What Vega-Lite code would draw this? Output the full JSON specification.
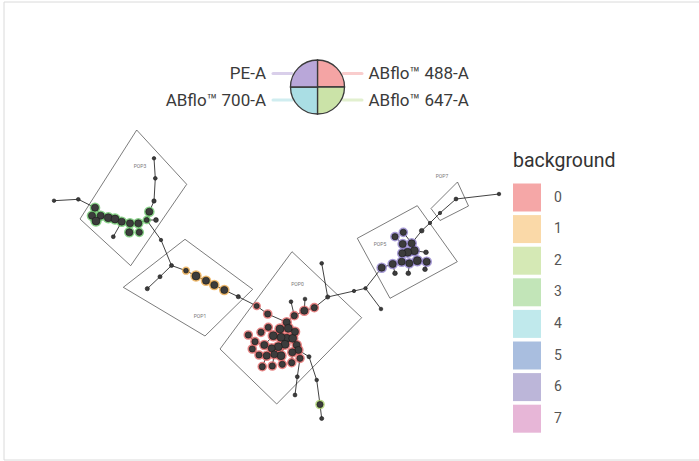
{
"$schema": "https://vega.github.io/schema/vega-lite/v6.json",
"width": 699, "height": 461, "padding": 0,
"autosize": {"type": "fit", "contains": "padding"},
"background": "white",
"config": {"view": {"stroke": null}, "font": "Roboto"},
"datasets": {
"nodes": [
{"id":1,"x":54,"y":200.7,"bg":null,"cells":20},
{"id":2,"x":78.3,"y":199.3,"bg":null,"cells":30},
{"id":3,"x":95,"y":207.7,"bg":"3","cells":320},
{"id":4,"x":92,"y":215.7,"bg":"3","cells":320},
{"id":5,"x":100.7,"y":215.7,"bg":"3","cells":320},
{"id":6,"x":96,"y":221,"bg":"3","cells":420},
{"id":7,"x":108.3,"y":217.7,"bg":"3","cells":420},
{"id":8,"x":115,"y":219,"bg":"3","cells":420},
{"id":9,"x":121.7,"y":221.7,"bg":"3","cells":320},
{"id":10,"x":130,"y":223.3,"bg":"3","cells":320},
{"id":11,"x":138.3,"y":223.3,"bg":"3","cells":320},
{"id":12,"x":129.3,"y":232.3,"bg":"3","cells":320},
{"id":13,"x":139.3,"y":232.3,"bg":"3","cells":220},
{"id":14,"x":113.3,"y":236.7,"bg":null,"cells":40},
{"id":15,"x":146.7,"y":220,"bg":"3","cells":120},
{"id":16,"x":156,"y":220,"bg":null,"cells":100},
{"id":17,"x":149.3,"y":211.7,"bg":"3","cells":320},
{"id":18,"x":154,"y":201,"bg":null,"cells":70},
{"id":19,"x":155.3,"y":178.3,"bg":null,"cells":30},
{"id":20,"x":154,"y":158.3,"bg":null,"cells":20},
{"id":21,"x":161,"y":240,"bg":null,"cells":15},
{"id":22,"x":171.5,"y":265.5,"bg":null,"cells":50},
{"id":23,"x":160,"y":276.7,"bg":null,"cells":50},
{"id":24,"x":147.3,"y":288.7,"bg":null,"cells":60},
{"id":25,"x":186,"y":270.7,"bg":"1","cells":100},
{"id":26,"x":196,"y":276,"bg":"1","cells":420},
{"id":27,"x":206,"y":280.7,"bg":"1","cells":320},
{"id":28,"x":214.3,"y":285,"bg":"1","cells":320},
{"id":29,"x":224.3,"y":290,"bg":"1","cells":320},
{"id":30,"x":238.3,"y":296.7,"bg":null,"cells":60},
{"id":31,"x":256.7,"y":306,"bg":"0","cells":120},
{"id":32,"x":267.7,"y":314,"bg":"0","cells":220},
{"id":33,"x":286.7,"y":322.3,"bg":"0","cells":320},
{"id":34,"x":294.3,"y":315.7,"bg":"0","cells":220},
{"id":35,"x":304.3,"y":310.7,"bg":"0","cells":320},
{"id":36,"x":314.3,"y":307.7,"bg":"0","cells":220},
{"id":37,"x":327.7,"y":297,"bg":null,"cells":60},
{"id":38,"x":291,"y":301.7,"bg":null,"cells":30},
{"id":39,"x":305,"y":299,"bg":null,"cells":30},
{"id":40,"x":321.7,"y":263.3,"bg":null,"cells":30},
{"id":41,"x":288.3,"y":328.3,"bg":"0","cells":420},
{"id":42,"x":286.7,"y":338.3,"bg":"0","cells":420},
{"id":43,"x":281,"y":337.3,"bg":"0","cells":420},
{"id":44,"x":292.7,"y":338.3,"bg":"0","cells":420},
{"id":45,"x":285,"y":344.3,"bg":"0","cells":420},
{"id":46,"x":280,"y":329,"bg":"0","cells":420},
{"id":47,"x":295,"y":331.7,"bg":"0","cells":320},
{"id":48,"x":273.3,"y":335.7,"bg":"0","cells":420},
{"id":49,"x":268.3,"y":327.3,"bg":"0","cells":220},
{"id":50,"x":261,"y":332.3,"bg":"0","cells":220},
{"id":51,"x":264.3,"y":345,"bg":"0","cells":320},
{"id":52,"x":255,"y":341.7,"bg":"0","cells":220},
{"id":53,"x":248.3,"y":335,"bg":"0","cells":220},
{"id":54,"x":278.3,"y":346.7,"bg":"0","cells":420},
{"id":55,"x":271.7,"y":348.3,"bg":"0","cells":320},
{"id":56,"x":266.7,"y":355.7,"bg":"0","cells":320},
{"id":57,"x":259,"y":355,"bg":"0","cells":220},
{"id":58,"x":252.3,"y":349,"bg":"0","cells":220},
{"id":59,"x":281,"y":355.7,"bg":"0","cells":420},
{"id":60,"x":282.3,"y":364.3,"bg":"0","cells":220},
{"id":61,"x":274.3,"y":354.3,"bg":"0","cells":320},
{"id":62,"x":272.3,"y":366,"bg":"0","cells":220},
{"id":63,"x":262.3,"y":366.7,"bg":"0","cells":220},
{"id":64,"x":296.7,"y":345,"bg":"0","cells":320},
{"id":65,"x":298.3,"y":350,"bg":"0","cells":320},
{"id":66,"x":292.3,"y":352.3,"bg":"0","cells":320},
{"id":67,"x":291.7,"y":362.7,"bg":"0","cells":220},
{"id":68,"x":300,"y":358.3,"bg":"0","cells":220},
{"id":70,"x":309,"y":356.7,"bg":null,"cells":50},
{"id":71,"x":316.7,"y":380,"bg":null,"cells":25},
{"id":72,"x":320,"y":404.5,"bg":"2","cells":220},
{"id":73,"x":321.7,"y":418.5,"bg":null,"cells":50},
{"id":74,"x":297.3,"y":376.7,"bg":null,"cells":40},
{"id":75,"x":295,"y":395,"bg":null,"cells":40},
{"id":76,"x":354,"y":291,"bg":null,"cells":12},
{"id":77,"x":365.5,"y":288.3,"bg":null,"cells":15},
{"id":78,"x":381,"y":309,"bg":null,"cells":25},
{"id":79,"x":381.7,"y":267.7,"bg":"6","cells":320},
{"id":80,"x":392.7,"y":264,"bg":"6","cells":320},
{"id":81,"x":401.7,"y":261.7,"bg":"6","cells":320},
{"id":82,"x":409.3,"y":263.3,"bg":"6","cells":320},
{"id":83,"x":417.3,"y":260.7,"bg":"6","cells":420},
{"id":84,"x":408.3,"y":273.3,"bg":null,"cells":90},
{"id":85,"x":395,"y":273.3,"bg":null,"cells":90},
{"id":86,"x":414.3,"y":250.7,"bg":"6","cells":420},
{"id":87,"x":426.7,"y":261.7,"bg":"6","cells":320},
{"id":88,"x":425,"y":269.3,"bg":null,"cells":90},
{"id":89,"x":426,"y":252.3,"bg":null,"cells":90},
{"id":90,"x":411.7,"y":243.3,"bg":"6","cells":320},
{"id":91,"x":403.3,"y":232.3,"bg":"6","cells":220},
{"id":92,"x":421.7,"y":230.7,"bg":null,"cells":90},
{"id":93,"x":407.7,"y":252.3,"bg":"6","cells":420},
{"id":94,"x":402.3,"y":253.3,"bg":"6","cells":320},
{"id":95,"x":402.7,"y":244,"bg":"6","cells":320},
{"id":96,"x":395,"y":236.7,"bg":"6","cells":220},
{"id":97,"x":430,"y":223,"bg":null,"cells":12},
{"id":98,"x":440,"y":213,"bg":null,"cells":12},
{"id":99,"x":456,"y":199,"bg":null,"cells":40},
{"id":100,"x":499,"y":194,"bg":null,"cells":20}
],
"edges": [
{"a":1,"b":2},{"a":2,"b":3},{"a":3,"b":5},{"a":4,"b":5},{"a":6,"b":5},{"a":5,"b":7},{"a":7,"b":8},{"a":8,"b":9},{"a":9,"b":10},{"a":10,"b":11},{"a":11,"b":15},{"a":10,"b":12},{"a":11,"b":13},{"a":9,"b":14},{"a":15,"b":16},{"a":15,"b":17},{"a":17,"b":18},{"a":18,"b":19},{"a":19,"b":20},{"a":15,"b":21},{"a":21,"b":22},
{"a":22,"b":23},{"a":23,"b":24},{"a":22,"b":25},{"a":25,"b":26},{"a":26,"b":27},{"a":27,"b":28},{"a":28,"b":29},{"a":29,"b":30},{"a":30,"b":31},
{"a":31,"b":32},{"a":32,"b":33},{"a":33,"b":34},{"a":34,"b":35},{"a":35,"b":36},{"a":36,"b":37},{"a":34,"b":38},{"a":35,"b":39},{"a":37,"b":40},{"a":33,"b":41},{"a":41,"b":42},{"a":42,"b":43},{"a":42,"b":44},{"a":42,"b":45},{"a":41,"b":46},{"a":41,"b":47},{"a":43,"b":48},{"a":48,"b":49},{"a":49,"b":50},{"a":48,"b":51},{"a":51,"b":52},{"a":52,"b":53},{"a":43,"b":54},{"a":54,"b":55},{"a":55,"b":56},{"a":56,"b":57},{"a":57,"b":58},{"a":45,"b":59},{"a":59,"b":60},{"a":54,"b":61},{"a":61,"b":62},{"a":56,"b":63},{"a":44,"b":64},{"a":64,"b":65},{"a":65,"b":66},{"a":66,"b":67},{"a":65,"b":68},{"a":65,"b":70},{"a":70,"b":71},{"a":71,"b":72},{"a":72,"b":73},{"a":68,"b":74},{"a":74,"b":75},
{"a":37,"b":76},{"a":76,"b":77},{"a":77,"b":78},{"a":77,"b":79},
{"a":79,"b":80},{"a":80,"b":81},{"a":81,"b":82},{"a":82,"b":83},{"a":82,"b":84},{"a":80,"b":85},{"a":83,"b":86},{"a":83,"b":87},{"a":87,"b":88},{"a":86,"b":89},{"a":86,"b":90},{"a":90,"b":91},{"a":90,"b":92},{"a":86,"b":93},{"a":93,"b":94},{"a":93,"b":95},{"a":95,"b":96},{"a":92,"b":97},{"a":97,"b":98},{"a":98,"b":99},{"a":99,"b":100}
],
"rects": [
{"pop":"POP3","i":0,"x":136.7,"y":130},{"pop":"POP3","i":1,"x":186.7,"y":184.3},{"pop":"POP3","i":2,"x":130.7,"y":265.7},{"pop":"POP3","i":3,"x":80,"y":219},{"pop":"POP3","i":4,"x":136.7,"y":130},
{"pop":"POP1","i":0,"x":185,"y":239.3},{"pop":"POP1","i":1,"x":252.7,"y":289.3},{"pop":"POP1","i":2,"x":205,"y":336},{"pop":"POP1","i":3,"x":123.3,"y":287.3},{"pop":"POP1","i":4,"x":185,"y":239.3},
{"pop":"POP0","i":0,"x":292,"y":251.7},{"pop":"POP0","i":1,"x":361.7,"y":317.7},{"pop":"POP0","i":2,"x":276.7,"y":404},{"pop":"POP0","i":3,"x":220,"y":349},{"pop":"POP0","i":4,"x":292,"y":251.7},
{"pop":"POP5","i":0,"x":417.3,"y":205.7},{"pop":"POP5","i":1,"x":457.3,"y":261.7},{"pop":"POP5","i":2,"x":390,"y":298.3},{"pop":"POP5","i":3,"x":357.3,"y":238.3},{"pop":"POP5","i":4,"x":417.3,"y":205.7},
{"pop":"POP7","i":0,"x":457.5,"y":182},{"pop":"POP7","i":1,"x":468.5,"y":206},{"pop":"POP7","i":2,"x":440,"y":220.5},{"pop":"POP7","i":3,"x":431,"y":208.5},{"pop":"POP7","i":4,"x":457.5,"y":182}
],
"pops": [
{"pop":"POP3","x":140,"y":165.5},{"pop":"POP1","x":200,"y":316},{"pop":"POP0","x":297.5,"y":284},{"pop":"POP5","x":380,"y":244},{"pop":"POP7","x":442,"y":175.7}
],
"pie": [
{"m":"ABflo™ 488-A","a0":0,"a1":1,"cx":317.5,"cy":87},
{"m":"ABflo™ 647-A","a0":1,"a1":2,"cx":317.5,"cy":87},
{"m":"ABflo™ 700-A","a0":2,"a1":3,"cx":317.5,"cy":87},
{"m":"PE-A","a0":3,"a1":4,"cx":317.5,"cy":87}
],
"conn": [
{"m":"PE-A","x":273,"x2":292,"y":73.5},
{"m":"ABflo™ 488-A","x":343,"x2":362,"y":73.5},
{"m":"ABflo™ 700-A","x":273,"x2":292,"y":100},
{"m":"ABflo™ 647-A","x":343,"x2":362,"y":100}
],
"labels": [
{"t":"PE-A","x":266,"y":79,"side":"L"},
{"t":"ABflo™ 700-A","x":266,"y":105.5,"side":"L"},
{"t":"ABflo™ 488-A","x":368.5,"y":79,"side":"R"},
{"t":"ABflo™ 647-A","x":368.5,"y":105.5,"side":"R"}
],
"frame": [{"x":4,"x2":720,"y":2,"y2":460}]
},
"layer": [
{
"data": {"name": "frame"},
"mark": {"type": "rect", "fillOpacity": 0, "stroke": "#dadada", "strokeWidth": 1, "clip": true},
"encoding": {
"x": {"field": "x", "type": "quantitative", "scale": {"domain": [0, 699], "nice": false, "zero": false}, "axis": null},
"x2": {"field": "x2"},
"y": {"field": "y", "type": "quantitative", "scale": {"domain": [0, 461], "nice": false, "zero": false, "reverse": true}, "axis": null},
"y2": {"field": "y2"}
}
},
{
"data": {"name": "rects"},
"mark": {"type": "line", "stroke": "#444444", "strokeWidth": 0.7},
"encoding": {
"x": {"field": "x", "type": "quantitative"},
"y": {"field": "y", "type": "quantitative"},
"detail": {"field": "pop"},
"order": {"field": "i"}
}
},
{
"data": {"name": "pops"},
"mark": {"type": "text", "fontSize": 5, "color": "#777777"},
"encoding": {
"x": {"field": "x", "type": "quantitative"},
"y": {"field": "y", "type": "quantitative"},
"text": {"field": "pop"}
}
},
{
"data": {"name": "edges"},
"transform": [
{"lookup": "a", "from": {"data": {"name": "nodes"}, "key": "id", "fields": ["x", "y"]}, "as": ["ax", "ay"]},
{"lookup": "b", "from": {"data": {"name": "nodes"}, "key": "id", "fields": ["x", "y"]}, "as": ["bx", "by"]}
],
"mark": {"type": "rule", "stroke": "#111111", "strokeWidth": 0.8},
"encoding": {
"x": {"field": "ax", "type": "quantitative"},
"y": {"field": "ay", "type": "quantitative"},
"x2": {"field": "bx"},
"y2": {"field": "by"}
}
},
{
"data": {"name": "nodes"},
"transform": [{"filter": "datum.bg != null"}],
"mark": {"type": "point", "shape": "circle", "filled": true, "opacity": 1, "strokeWidth": 3.5, "strokeOpacity": 0.8},
"encoding": {
"x": {"field": "x", "type": "quantitative"},
"y": {"field": "y", "type": "quantitative"},
"size": {"field": "cells", "type": "quantitative", "scale": {"domain": [20, 420], "range": [12.6, 63.6], "zero": false}, "legend": null},
"color": {"field": "bg", "type": "nominal",
"scale": {"domain": ["0","1","2","3","4","5","6","7"], "range": ["#F5A7A7","#FAD9A8","#D5E9B5","#C2E5B8","#C0E9EC","#A9BEDF","#BCB6D9","#E7B6D7"]},
"legend": {"title": "background", "orient": "none", "legendX": 513, "legendY": 152, "symbolType": "square", "symbolSize": 784, "symbolStrokeWidth": 0, "symbolOpacity": 1, "titleFontSize": 19.5, "titleFont": "Roboto", "titleFontWeight": "normal", "titleColor": "#333333", "labelFontSize": 14, "labelFont": "Roboto", "labelColor": "#555555", "rowPadding": 3.6, "labelOffset": 13, "titlePadding": 12}},
"stroke": {"field": "bg", "type": "nominal",
"scale": {"domain": ["0","1","2","3","4","5","6","7","PE-A","ABflo™ 488-A","ABflo™ 700-A","ABflo™ 647-A"], "range": ["#E06666","#E8A84A","#A9CF6A","#6CC46C","#7FD3DB","#6F8FCB","#8E80C8","#D47FB8","#B9A7D9","#F4A4A4","#AADEE4","#CBE3A8"]},
"legend": null}
}
},
{
"data": {"name": "nodes"},
"mark": {"type": "point", "shape": "circle", "filled": true, "opacity": 1, "color": "#3c3c3c", "stroke": "#1a1a1a", "strokeWidth": 0.6},
"encoding": {
"x": {"field": "x", "type": "quantitative"},
"y": {"field": "y", "type": "quantitative"},
"size": {"field": "cells", "type": "quantitative", "legend": null}
}
},
{
"data": {"name": "conn"},
"mark": {"type": "rule", "strokeWidth": 3, "opacity": 0.55, "strokeCap": "round"},
"encoding": {
"x": {"field": "x", "type": "quantitative"},
"x2": {"field": "x2"},
"y": {"field": "y", "type": "quantitative"},
"stroke": {"field": "m", "type": "nominal", "legend": null}
}
},
{
"data": {"name": "pie"},
"mark": {"type": "arc", "outerRadius": 27, "stroke": "#3a3a3a", "strokeWidth": 1.3},
"encoding": {
"x": {"field": "cx", "type": "quantitative"},
"y": {"field": "cy", "type": "quantitative"},
"theta": {"field": "a0", "type": "quantitative", "scale": {"domain": [0, 4], "range": [0, 6.283185307], "nice": false, "zero": false}},
"theta2": {"field": "a1"},
"fill": {"field": "m", "type": "nominal", "scale": {"domain": ["PE-A","ABflo™ 488-A","ABflo™ 700-A","ABflo™ 647-A"], "range": ["#B9A7D9","#F4A4A4","#AADEE4","#CBE3A8"]}, "legend": null}
}
},
{
"data": {"name": "labels"},
"transform": [{"filter": "datum.side == 'L'"}],
"mark": {"type": "text", "align": "right", "baseline": "alphabetic", "fontSize": 17, "font": "Roboto", "color": "#3a3a3a"},
"encoding": {
"x": {"field": "x", "type": "quantitative"},
"y": {"field": "y", "type": "quantitative"},
"text": {"field": "t"}
}
},
{
"data": {"name": "labels"},
"transform": [{"filter": "datum.side == 'R'"}],
"mark": {"type": "text", "align": "left", "baseline": "alphabetic", "fontSize": 17, "font": "Roboto", "color": "#3a3a3a"},
"encoding": {
"x": {"field": "x", "type": "quantitative"},
"y": {"field": "y", "type": "quantitative"},
"text": {"field": "t"}
}
}
]
}
